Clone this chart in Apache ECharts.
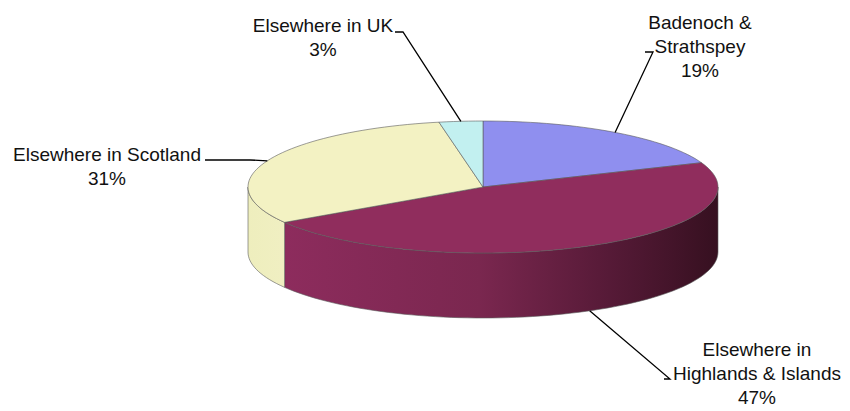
<!DOCTYPE html>
<html>
<head>
<meta charset="utf-8">
<script src="https://cdn.jsdelivr.net/npm/echarts@6/dist/echarts.min.js"></script>
<style>
  html, body { margin: 0; padding: 0; background: #fff; }
  #chart { width: 850px; height: 411px; }
</style>
</head>
<body>
<div id="chart"></div>
<script>
// Where visitors come from (share of total, %), clockwise from 12 o'clock
const categories = [
  'Badenoch &\nStrathspey',
  'Elsewhere in\nHighlands & Islands',
  'Elsewhere in Scotland',
  'Elsewhere in UK'
];
const shares = [19, 47, 31, 3];

// Slice styling
const topColors = ['#8f8fef', '#902d5d', '#f3f2c3', '#c2f0f0'];
const sideColors = [
  '#6f6fc8',
  { type: 'linear', x: 0, y: 0, x2: 1, y2: 0, colorStops: [
    { offset: 0, color: '#8d2c5d' },
    { offset: 0.45, color: '#7a274f' },
    { offset: 0.75, color: '#561a37' },
    { offset: 1, color: '#361020' }
  ] },
  { type: 'linear', x: 0, y: 0, x2: 1, y2: 0, colorStops: [
    { offset: 0, color: '#eeeebd' },
    { offset: 1, color: '#f0efc2' }
  ] },
  '#a9dede'
];

// Disc geometry (ellipse of the top face and wall height)
const geo = { cx: 483, cy: 187, rx: 235, ry: 66, depth: 65 };

// Label blocks: text centre x, first-line centre y, leader elbow and end
const labelLayout = [
  { x: 700, y: 22, elbow: [653, 52], end: [645, 52] },
  { x: 757, y: 349, elbow: [670, 379], end: [664, 379] },
  { x: 107, y: 154, elbow: [250, 160], end: [205, 160] },
  { x: 323, y: 25, elbow: [403, 32], end: [395, 32] }
];

const total = shares.reduce((a, b) => a + b, 0);
const starts = [];
shares.reduce((acc, v) => { starts.push(acc / total * 360); return acc + v; }, 0);

function pt(deg, dy) {
  const r = deg * Math.PI / 180;
  return [geo.cx + geo.rx * Math.sin(r), geo.cy - geo.ry * Math.cos(r) + (dy || 0)];
}
function arc(a0, a1, dy) {
  const pts = [];
  const n = Math.max(2, Math.ceil((a1 - a0) / 2));
  for (let k = 0; k <= n; k++) pts.push(pt(a0 + (a1 - a0) * k / n, dy));
  return pts;
}

function renderItem(params, api) {
  const i = params.dataIndex;
  const value = api.value(0);
  const a0 = starts[i];
  const a1 = a0 + value / total * 360;
  const children = [];
  const edge = { stroke: '#5a5a5a', lineWidth: 0.6 };

  // front wall: visible part lies between 90 and 270 degrees
  const s0 = Math.max(a0, 90), s1 = Math.min(a1, 270);
  if (s1 > s0) {
    const topArc = arc(s0, s1, 0);
    const botArc = arc(s0, s1, geo.depth).reverse();
    children.push({
      type: 'polygon', z2: 1,
      shape: { points: topArc.concat(botArc) },
      style: Object.assign({ fill: sideColors[i] }, edge)
    });
  }

  // top face
  children.push({
    type: 'polygon', z2: 2,
    shape: { points: [[geo.cx, geo.cy]].concat(arc(a0, a1, 0)) },
    style: Object.assign({ fill: topColors[i] }, edge)
  });

  // leader line from slice middle to the label
  const mid = (a0 + a1) / 2;
  const front = Math.cos(mid * Math.PI / 180) < 0;
  const anchor = pt(mid, front ? geo.depth : 0);
  const L = labelLayout[i];
  children.push({
    type: 'polyline', z2: 3,
    shape: { points: [anchor, L.elbow, L.end] },
    style: { stroke: '#000', lineWidth: 1.3, fill: null }
  });

  // label text
  children.push({
    type: 'text', z2: 4,
    x: L.x, y: L.y - 12,
    style: {
      text: categories[i] + '\n' + value + '%',
      fill: '#111',
      font: '19px "Liberation Sans", Arial, sans-serif',
      lineHeight: 24,
      align: 'center',
      verticalAlign: 'top'
    }
  });

  return { type: 'group', children: children };
}

const chart = echarts.init(document.getElementById('chart'), null, { renderer: 'svg' });
chart.setOption({
  animation: false,
  backgroundColor: '#ffffff',
  series: [{
    type: 'custom',
    coordinateSystem: 'none',
    renderItem: renderItem,
    data: shares.map((v, i) => ({ name: categories[i], value: [v] }))
  }]
});
</script>
</body>
</html>
